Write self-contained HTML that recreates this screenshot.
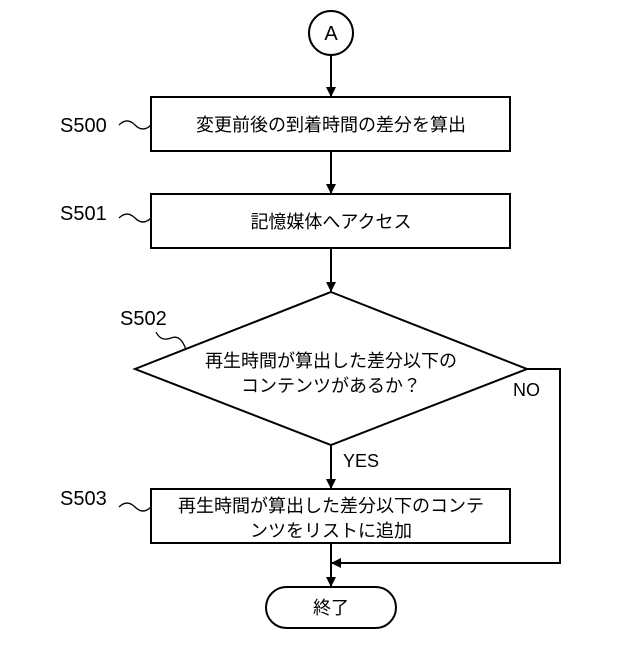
<!DOCTYPE html>
<html><head><meta charset="utf-8"><style>body{margin:0;background:#fff}</style></head><body>
<svg width="640" height="640" xmlns="http://www.w3.org/2000/svg" font-family="'Liberation Sans','Noto Sans CJK JP',sans-serif" fill="none" stroke="#000" stroke-width="2">
<defs><marker id="a" markerWidth="10" markerHeight="10" refX="9" refY="5" orient="auto" markerUnits="userSpaceOnUse"><path d="M0,0 L10,5 L0,10 Z" fill="#000" stroke="none"/></marker></defs>
<circle cx="331" cy="33" r="22"/>
<line x1="331" y1="55" x2="331" y2="96" marker-end="url(#a)"/>
<rect x="151" y="97" width="359" height="54"/>
<line x1="331" y1="151" x2="331" y2="193" marker-end="url(#a)"/>
<rect x="151" y="194" width="359" height="54"/>
<line x1="331" y1="248" x2="331" y2="291" marker-end="url(#a)"/>
<polygon points="331,292 527,369 331,445 135,369"/>
<line x1="331" y1="445" x2="331" y2="488" marker-end="url(#a)"/>
<rect x="151" y="489" width="359" height="54"/>
<polyline points="527,369 560,369 560,563 332,563" marker-end="url(#a)"/>
<line x1="331" y1="543" x2="331" y2="586" marker-end="url(#a)"/>
<rect x="266" y="587" width="130" height="41" rx="20.5"/>
<path d="M119,125 q8,-8 16,0 t16,0" stroke-width="1.3"/>
<path d="M119,218 q8,-8 16,0 t16,0" stroke-width="1.3"/>
<path d="M119,507 q8,-8 16,0 t16,0" stroke-width="1.3"/>
<path d="M156,332 q5,10 15,6 t15,12" stroke-width="1.3"/>
<g fill="#000" stroke="none" font-size="20">
<text x="331" y="40" text-anchor="middle" font-size="20">A</text>
<text x="60" y="132">S500</text>
<text x="60" y="220">S501</text>
<text x="120" y="325">S502</text>
<text x="60" y="505">S503</text>
<text x="513" y="396" font-size="18">NO</text>
<text x="343" y="467" font-size="18">YES</text>
</g>
<g fill="#000" stroke="none" font-size="18" text-anchor="middle">
<text x="331" y="131">変更前後の到着時間の差分を算出</text>
<text x="331" y="228">記憶媒体へアクセス</text>
<text x="331" y="367">再生時間が算出した差分以下の</text>
<text x="331" y="392">コンテンツがあるか？</text>
<text x="331" y="512">再生時間が算出した差分以下のコンテ</text>
<text x="331" y="537">ンツをリストに追加</text>
<text x="331" y="614">終了</text>
</g>
</svg>
</body></html>
